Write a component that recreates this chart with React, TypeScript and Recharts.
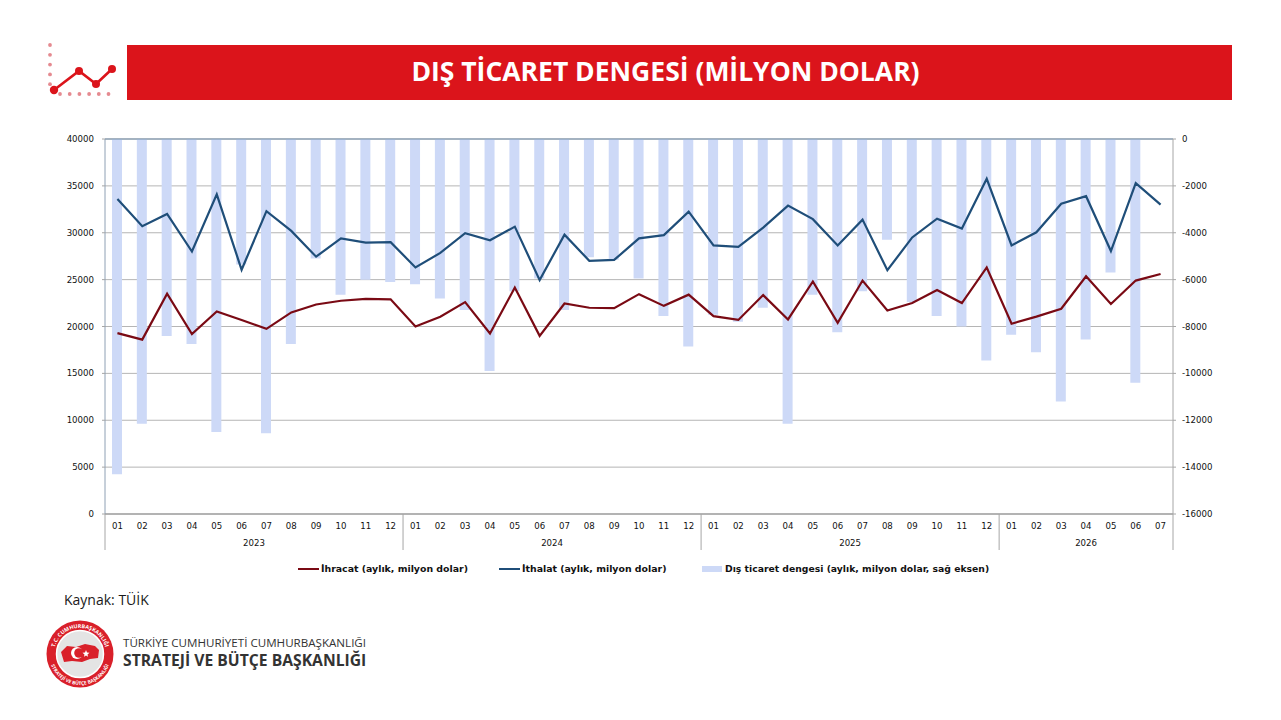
import React from 'react';
import { ComposedChart, Bar, Line, XAxis, YAxis, CartesianGrid, Legend, ReferenceLine } from 'recharts';

const years = ['2023', '2024', '2025', '2026'];
const monthCounts = [12, 12, 12, 7];
const exportsSeries = [
  19300, 18600, 23500, 19200, 21600, 20700, 19750, 21500, 22350, 22750, 22950, 22900,
  20000, 21050, 22600, 19250, 24150, 19000, 22450, 22000, 21950, 23450, 22200, 23400,
  21100, 20700, 23350, 20750, 24800, 20400, 24900, 21700, 22500, 23900, 22500, 26300,
  20300, 21050, 21900, 25350, 22400, 24900, 25600,
];
const importsSeries = [
  33600, 30700, 32000, 28000, 34100, 26050, 32300, 30200, 27450, 29400, 28950, 29000,
  26300, 27850, 29950, 29200, 30650, 24950, 29800, 27000, 27100, 29400, 29750, 32250,
  28650, 28500, 30550, 32900, 31450, 28650, 31400, 26000, 29500, 31500, 30450, 35750,
  28650, 30050, 33100, 33900, 28050, 35300, 33000,
];
const balanceSeries: (number | null)[] = [
  -14300, -12150, -8400, -8750, -12500, -5350, -12550, -8750, -5100, -6650, -6000, -6100,
  -6200, -6800, -7300, -9900, -6500, -5950, -7300, -5050, -5150, -5950, -7550, -8850,
  -7500, -7800, -7200, -12150, -6650, -8250, -6500, -4300, -6950, -7550, -8000, -9450,
  -8350, -9100, -11200, -8550, -5700, -10400, null,
];
const leftTicks = [0, 5000, 10000, 15000, 20000, 25000, 30000, 35000, 40000];
const rightTicks = [0, -2000, -4000, -6000, -8000, -10000, -12000, -14000, -16000];

const seriesNames = {
  exports: 'İhracat (aylık, milyon dolar)',
  imports: 'İthalat (aylık, milyon dolar)',
  balance: 'Dış ticaret dengesi (aylık, milyon dolar, sağ eksen)',
};

const periods: { year: string; month: string; first: boolean; mid: boolean; last: boolean; count: number }[] = [];
years.forEach((year, yi) => {
  for (let m = 1; m <= monthCounts[yi]; m++) {
    periods.push({
      year,
      month: String(m).padStart(2, '0'),
      first: m === 1,
      mid: m === Math.ceil((monthCounts[yi] + 1) / 2),
      last: yi === years.length - 1 && m === monthCounts[yi],
      count: monthCounts[yi],
    });
  }
});
const data = periods.map((p, i) => ({
  period: `${p.year}-${p.month}`,
  exports: exportsSeries[i],
  imports: importsSeries[i],
  balance: balanceSeries[i],
}));

const W = 1281;
const H = 720;
const PLOT_W = 1068;
const BAND = PLOT_W / periods.length;
const TICK_FONT = '"DejaVu Sans", Verdana, sans-serif';
const TICK_SIZE = 8.6;
const AXIS_GRAY = '#a6a6a6';

const YearTick = (props: any) => {
  const { x, y, index } = props;
  const p = periods[index];
  if (!p) return null;
  const centre = p.count % 2 === 0 ? x - BAND / 2 : x;
  return (
    <g>
      {p.first && <line x1={x - BAND / 2} x2={x - BAND / 2} y1={y - 20} y2={y + 16} stroke={AXIS_GRAY} strokeWidth={1} />}
      {p.last && <line x1={x + BAND / 2} x2={x + BAND / 2} y1={y - 20} y2={y + 16} stroke={AXIS_GRAY} strokeWidth={1} />}
      {p.mid && (
        <text x={centre} y={y + 12} textAnchor="middle" fontFamily={TICK_FONT} fontSize={TICK_SIZE} fill="#111">
          {p.year}
        </text>
      )}
    </g>
  );
};

const LegendContent = () => {
  const item: React.CSSProperties = { position: 'absolute', top: 0, whiteSpace: 'nowrap', fontFamily: TICK_FONT, fontSize: 9.4, fontWeight: 700, color: '#111', lineHeight: '14px' };
  return (
    <div style={{ position: 'relative', width: W, height: 14 }}>
      <div style={{ position: 'absolute', left: 298, top: 6, width: 21, height: 2, background: '#7a0a14' }} />
      <div style={{ ...item, left: 321 }}>{seriesNames.exports}</div>
      <div style={{ position: 'absolute', left: 499, top: 6, width: 21, height: 2, background: '#1f4e79' }} />
      <div style={{ ...item, left: 522 }}>{seriesNames.imports}</div>
      <div style={{ position: 'absolute', left: 702, top: 4, width: 20, height: 6, background: '#cdd9f7' }} />
      <div style={{ ...item, left: 725, fontSize: 9.25 }}>{seriesNames.balance}</div>
    </div>
  );
};

const HeaderIcon = () => (
  <svg width={80} height={70} style={{ position: 'absolute', left: 40, top: 36 }} viewBox="0 0 80 70">
    {[0, 1, 2, 3, 4].map((i) => (
      <circle key={i} cx={10} cy={9 + i * 9.8} r={1.9} fill="#e58a90" />
    ))}
    {[0, 1, 2, 3, 4, 5].map((i) => (
      <circle key={i} cx={20 + i * 9.7} cy={58} r={1.9} fill="#e58a90" />
    ))}
    <polyline points="14,54 39,35 56,48 72,33" fill="none" stroke="#db141b" strokeWidth={2.6} />
    {[[14, 54, 4.2], [39, 35, 4], [56, 48, 4], [72, 33, 4]].map(([cx, cy, r], i) => (
      <circle key={i} cx={cx} cy={cy} r={r} fill="#db141b" />
    ))}
  </svg>
);

const Logo = () => (
  <svg width={70} height={70} style={{ position: 'absolute', left: 45, top: 619 }} viewBox="0 0 70 70">
    <defs>
      <path id="arcTop" d="M 10.6 43.9 A 26 26 0 1 1 59.4 43.9" />
      <path id="arcBottom" d="M 4 35 A 31 31 0 0 0 66 35" />
    </defs>
    <circle cx={35} cy={35} r={33.5} fill="#d9202a" />
    <circle cx={35} cy={35} r={23.5} fill="#e4e4e4" stroke="#fff" strokeWidth={1.5} />
    <path d="M16 33 L22 27 L31 28 L40 25 L50 27 L54 31 L53 39 L45 40 L37 43 L27 42 L19 43 Z" fill="#d9202a" />
    <circle cx={32} cy={34} r={6} fill="#fff" />
    <circle cx={34} cy={34} r={4.8} fill="#d9202a" />
    <polygon points="41,31 42,33.5 44.5,33.8 42.5,35.5 43,37.8 41,36.5 39,37.8 39.5,35.5 37.5,33.8 40,33.5" fill="#fff" />
    <text fontFamily='"Open Sans", sans-serif' fontSize={5.4} fontWeight={700} fill="#fff">
      <textPath href="#arcTop" startOffset="50%" textAnchor="middle">T.C. CUMHURBAŞKANLIĞI</textPath>
    </text>
    <text fontFamily='"Open Sans", sans-serif' fontSize={4.8} fontWeight={700} fill="#fff">
      <textPath href="#arcBottom" startOffset="50%" textAnchor="middle">STRATEJİ VE BÜTÇE BAŞKANLIĞI</textPath>
    </text>
  </svg>
);

export default function App() {
  return (
    <div style={{ position: 'absolute', left: 0, top: 0, width: W, height: H, background: '#fff', overflow: 'hidden' }}>
      <HeaderIcon />
      <div
        style={{
          position: 'absolute', left: 127, top: 45, width: 1105, height: 55, background: '#db141b',
          color: '#fff', fontFamily: '"Open Sans", sans-serif', fontWeight: 700, fontSize: 26.5,
          lineHeight: '53px', textAlign: 'center', paddingRight: 28, boxSizing: 'border-box',
        }}
      >
        DIŞ TİCARET DENGESİ (MİLYON DOLAR)
      </div>

      <div style={{ position: 'absolute', left: 0, top: 0 }}>
        <ComposedChart
          width={W}
          height={H}
          data={data}
          barCategoryGap={0}
          margin={{ top: 139, right: 48, bottom: 164, left: 45 }}
        >
          <CartesianGrid horizontal vertical={false} yAxisId="left" stroke="#b5b5b5" strokeWidth={1} syncWithTicks />
          <XAxis
            xAxisId="month"
            dataKey="period"
            tickFormatter={(v: string) => v.slice(5)}
            interval={0}
            tickLine={false}
            axisLine={{ stroke: '#8c8c8c' }}
            height={12}
            tick={{ fontFamily: TICK_FONT, fontSize: TICK_SIZE, fill: '#111' }}
            tickMargin={3}
          />
          <XAxis
            xAxisId="year"
            dataKey="period"
            interval={0}
            tickLine={false}
            axisLine={false}
            height={16}
            tick={<YearTick />}
          />
          <YAxis
            yAxisId="left"
            domain={[0, 40000]}
            ticks={leftTicks}
            interval={0}
            width={60}
            tickSize={3}
            tickMargin={8}
            stroke={AXIS_GRAY}
            tickLine={{ stroke: AXIS_GRAY }}
            axisLine={{ stroke: '#8ea0b4' }}
            tick={{ fontFamily: TICK_FONT, fontSize: TICK_SIZE, fill: '#111' }}
          />
          <YAxis
            yAxisId="right"
            orientation="right"
            domain={[-16000, 0]}
            ticks={rightTicks}
            interval={0}
            width={60}
            tickSize={3}
            tickMargin={6}
            stroke={AXIS_GRAY}
            tickLine={{ stroke: AXIS_GRAY }}
            axisLine={{ stroke: AXIS_GRAY }}
            tick={{ fontFamily: TICK_FONT, fontSize: TICK_SIZE, fill: '#111' }}
          />
          <Bar
            xAxisId="month"
            yAxisId="right"
            dataKey="balance"
            name={seriesNames.balance}
            fill="#cdd9f7"
            barSize={10}
            isAnimationActive={false}
          />
          <ReferenceLine xAxisId="month" yAxisId="right" y={0} stroke="#6f8ba6" strokeWidth={1} />
          <Line
            xAxisId="month"
            yAxisId="left"
            dataKey="exports"
            name={seriesNames.exports}
            stroke="#7a0a14"
            strokeWidth={2.2}
            dot={false}
            activeDot={false}
            isAnimationActive={false}
          />
          <Line
            xAxisId="month"
            yAxisId="left"
            dataKey="imports"
            name={seriesNames.imports}
            stroke="#1f4e79"
            strokeWidth={2.2}
            dot={false}
            activeDot={false}
            isAnimationActive={false}
          />
          <Legend content={<LegendContent />} wrapperStyle={{ position: 'absolute', left: 0, top: 562, width: W, height: 14 }} />
        </ComposedChart>
      </div>

      <div style={{ position: 'absolute', left: 64, top: 590, fontFamily: '"Open Sans", sans-serif', fontSize: 14, color: '#1a1a1a', lineHeight: '20px' }}>
        Kaynak: TÜİK
      </div>
      <Logo />
      <div style={{ position: 'absolute', left: 123, top: 636, fontFamily: '"Open Sans", sans-serif', fontSize: 11.6, color: '#333', lineHeight: '14px', whiteSpace: 'nowrap' }}>
        TÜRKİYE CUMHURİYETİ CUMHURBAŞKANLIĞI
      </div>
      <div style={{ position: 'absolute', left: 123, top: 651, fontFamily: '"Open Sans", sans-serif', fontSize: 15.7, fontWeight: 700, color: '#333', lineHeight: '18px', whiteSpace: 'nowrap' }}>
        STRATEJİ VE BÜTÇE BAŞKANLIĞI
      </div>
    </div>
  );
}
